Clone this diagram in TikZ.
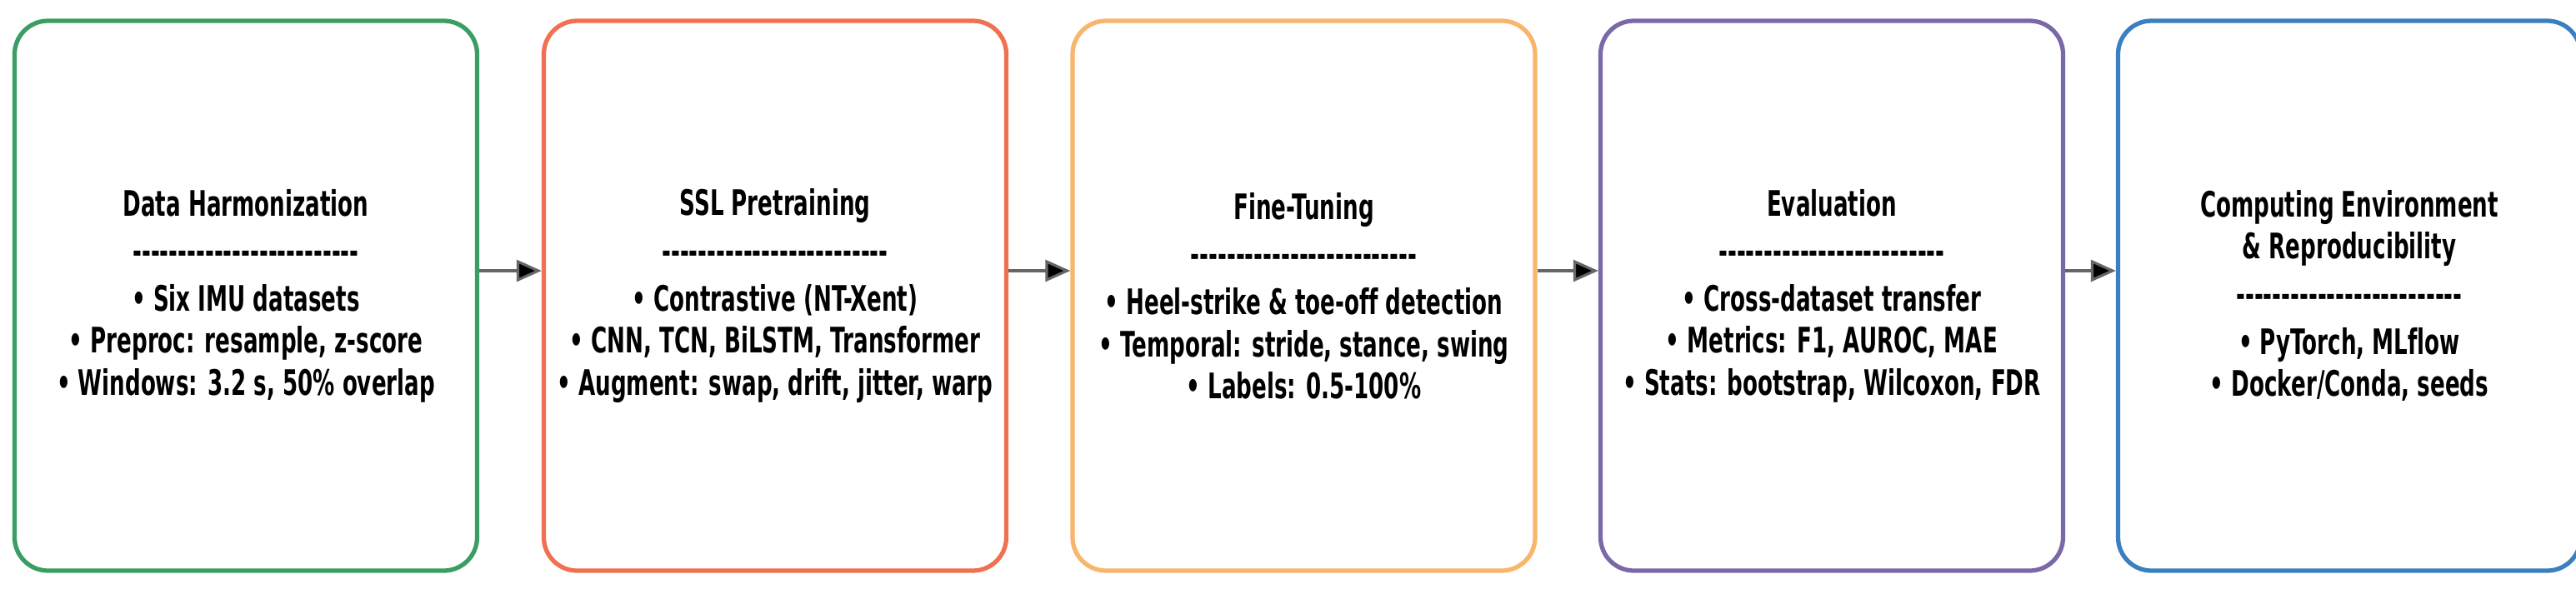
\documentclass[tikz,border=0pt]{standalone}
\usepackage{fontspec}
\setmainfont{DejaVu Sans}[FakeStretch=0.62,Ligatures=NoCommon]
\usetikzlibrary{calc,arrows.meta}
\definecolor{cA}{HTML}{3A9E64}
\definecolor{cB}{HTML}{F07050}
\definecolor{cC}{HTML}{F9B56B}
\definecolor{cD}{HTML}{7B68A8}
\definecolor{cE}{HTML}{3A7FC0}
\newcommand\dashrow{-{}-{}-{}-{}-{}-{}-{}-{}-{}-{}-{}-{}-{}-{}-{}-{}-{}-{}-{}-{}-{}-{}-{}-{}-}
\tikzset{
 stagebox/.style={draw=#1, line width=1.5pt, rounded corners=0.4cm, minimum width=5.55cm, minimum height=6.6cm, fill=white, align=center, font=\bfseries\fontsize{12}{14.3}\selectfont, inner sep=0pt},
 flow/.style={draw=gray!80!black, line width=0.9pt, -{Triangle[length=0.3cm,width=0.26cm,fill=black]}}
}
\begin{document}
\begin{tikzpicture}
\useasboundingbox (0,0) rectangle (30.91,7.12);
\node[stagebox=cA] (a) at (2.95,3.57) {Data Harmonization\\[2pt]\dashrow\\[2pt]• Six IMU datasets\\• Preproc: resample, z-score\\• Windows: 3.2 s, 50\% overlap};
\node[stagebox=cB] (b) at (9.30,3.57) {SSL Pretraining\\[2pt]\dashrow\\[2pt]• Contrastive (NT-Xent)\\• CNN, TCN, BiLSTM, Transformer\\• Augment: swap, drift, jitter, warp};
\node[stagebox=cC] (c) at (15.645,3.57) {Fine-Tuning\\[2pt]\dashrow\\[2pt]• Heel-strike \& toe-off detection\\• Temporal: stride, stance, swing\\• Labels: 0.5-100\%};
\node[stagebox=cD] (d) at (21.98,3.57) {Evaluation\\[2pt]\dashrow\\[2pt]• Cross-dataset transfer\\• Metrics: F1, AUROC, MAE\\• Stats: bootstrap, Wilcoxon, FDR};
\node[stagebox=cE] (e) at (28.19,3.57) {Computing Environment\\\& Reproducibility\\[2pt]\dashrow\\[2pt]• PyTorch, MLflow\\• Docker/Conda, seeds};
\foreach \p/\q in {a/b,b/c,c/d,d/e}
  \draw[flow] ($(\p.east)+(0,0.3)$) -- ($(\q.west)+(0,0.3)$);
\end{tikzpicture}
\end{document}
